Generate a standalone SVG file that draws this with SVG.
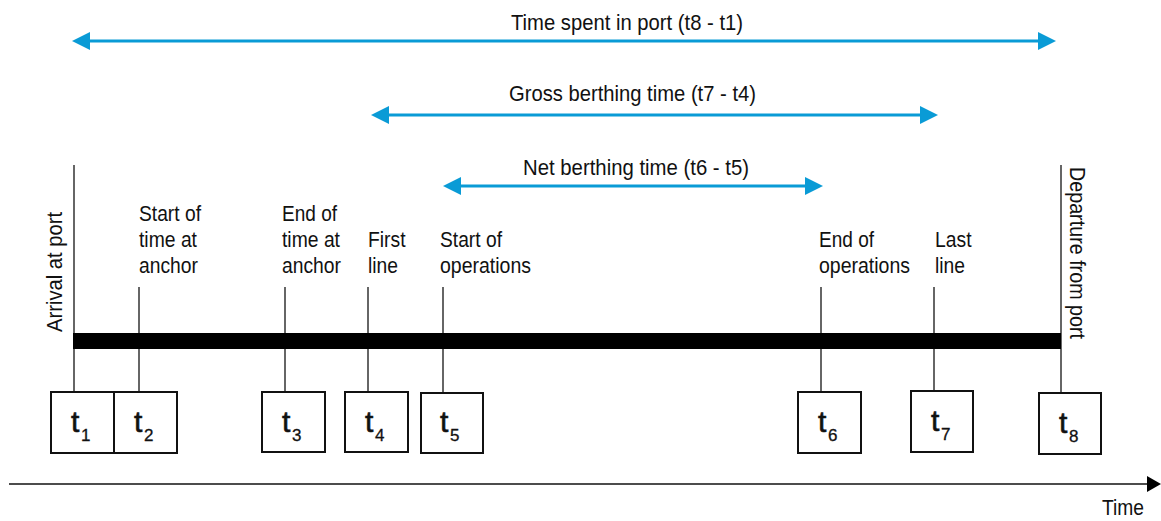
<svg xmlns="http://www.w3.org/2000/svg" width="1161" height="521" viewBox="0 0 1161 521">
<style>
text{font-family:"Liberation Sans",Arial,sans-serif;fill:#111}
.lbl{font-size:22.5px}
.tt{font-size:30px;stroke:#111;stroke-width:0.6}
.sub{font-size:17px;stroke:#111;stroke-width:0.3}
.box{fill:#fff;stroke:#111;stroke-width:2}
.span{stroke:#0a9bd6;stroke-width:3;fill:none;marker-start:url(#ah);marker-end:url(#ah)}
.tick{stroke:#333;stroke-width:1.5}
</style>
<defs>
<marker id="ah" viewBox="0 0 18 18" refX="3" refY="9" markerWidth="18" markerHeight="18" markerUnits="userSpaceOnUse" orient="auto-start-reverse">
<path d="M0,0 L18,9 L0,18 z" fill="#0a9bd6"/>
</marker>
<marker id="ak" viewBox="0 0 14 16" refX="2" refY="8" markerWidth="14" markerHeight="16" markerUnits="userSpaceOnUse" orient="auto">
<path d="M0,0 L14,8 L0,16 z" fill="#000"/>
</marker>
</defs>
<rect width="1161" height="521" fill="#fff"/>

<g id="connectors">
<line class="span" x1="87" y1="41" x2="1041" y2="41"/>
<line class="span" x1="386" y1="115" x2="923" y2="115"/>
<line class="span" x1="458" y1="186" x2="808" y2="186"/>
<line class="tick" x1="74" y1="165" x2="74" y2="392"/>
<line class="tick" x1="139" y1="287" x2="139" y2="392"/>
<line class="tick" x1="285" y1="287" x2="285" y2="392"/>
<line class="tick" x1="368" y1="287" x2="368" y2="392"/>
<line class="tick" x1="443" y1="287" x2="443" y2="392"/>
<line class="tick" x1="821" y1="287" x2="821" y2="392"/>
<line class="tick" x1="934" y1="287" x2="934" y2="392"/>
<line class="tick" x1="1061" y1="165" x2="1061" y2="393"/>
<line x1="9" y1="484" x2="1149" y2="484" stroke="#111" stroke-width="1.5" marker-end="url(#ak)"/>
</g>

<g id="timeline"><rect x="73" y="333" width="988" height="16" fill="#000"/></g>

<g id="span-port"><text class="lbl" x="511" y="30" textLength="232" lengthAdjust="spacingAndGlyphs">Time spent in port (t8 - t1)</text></g>
<g id="span-gross"><text class="lbl" x="509" y="101" textLength="247" lengthAdjust="spacingAndGlyphs">Gross berthing time (t7 - t4)</text></g>
<g id="span-net"><text class="lbl" x="523" y="175" textLength="226" lengthAdjust="spacingAndGlyphs">Net berthing time (t6 - t5)</text></g>

<g id="arrival"><text class="lbl" transform="translate(62,332) rotate(-90)" textLength="120" lengthAdjust="spacingAndGlyphs">Arrival at port</text></g>
<g id="departure"><text class="lbl" transform="translate(1070,167) rotate(90)" textLength="172" lengthAdjust="spacingAndGlyphs">Departure from port</text></g>

<g id="start-anchor">
<text class="lbl" x="139" y="220.5" textLength="62" lengthAdjust="spacingAndGlyphs">Start of</text>
<text class="lbl" x="139" y="246.5" textLength="58" lengthAdjust="spacingAndGlyphs">time at</text>
<text class="lbl" x="139" y="273" textLength="59" lengthAdjust="spacingAndGlyphs">anchor</text>
</g>
<g id="end-anchor">
<text class="lbl" x="282" y="220.5" textLength="55" lengthAdjust="spacingAndGlyphs">End of</text>
<text class="lbl" x="282" y="246.5" textLength="58" lengthAdjust="spacingAndGlyphs">time at</text>
<text class="lbl" x="282" y="273" textLength="59" lengthAdjust="spacingAndGlyphs">anchor</text>
</g>
<g id="first-line">
<text class="lbl" x="368" y="246.5" textLength="37.5" lengthAdjust="spacingAndGlyphs">First</text>
<text class="lbl" x="368" y="273" textLength="30" lengthAdjust="spacingAndGlyphs">line</text>
</g>
<g id="start-ops">
<text class="lbl" x="440" y="246.5" textLength="62" lengthAdjust="spacingAndGlyphs">Start of</text>
<text class="lbl" x="440" y="273" textLength="91" lengthAdjust="spacingAndGlyphs">operations</text>
</g>
<g id="end-ops">
<text class="lbl" x="819" y="246.5" textLength="55" lengthAdjust="spacingAndGlyphs">End of</text>
<text class="lbl" x="819" y="273" textLength="91" lengthAdjust="spacingAndGlyphs">operations</text>
</g>
<g id="last-line">
<text class="lbl" x="935" y="246.5" textLength="36.5" lengthAdjust="spacingAndGlyphs">Last</text>
<text class="lbl" x="935" y="273" textLength="30" lengthAdjust="spacingAndGlyphs">line</text>
</g>

<g id="t1"><rect class="box" x="51" y="392" width="63" height="61"/><text x="71" y="432" class="tt">t</text><text x="81" y="441" class="sub">1</text></g>
<g id="t2"><rect class="box" x="114" y="392" width="63" height="61"/><text x="134" y="432" class="tt">t</text><text x="144" y="441" class="sub">2</text></g>
<g id="t3"><rect class="box" x="262" y="392" width="63" height="60"/><text x="282" y="432" class="tt">t</text><text x="292" y="441" class="sub">3</text></g>
<g id="t4"><rect class="box" x="345" y="392" width="63" height="60"/><text x="365" y="432" class="tt">t</text><text x="375" y="441" class="sub">4</text></g>
<g id="t5"><rect class="box" x="421" y="393" width="62" height="60"/><text x="440" y="432" class="tt">t</text><text x="450" y="441" class="sub">5</text></g>
<g id="t6"><rect class="box" x="798" y="392" width="63" height="61"/><text x="818" y="432" class="tt">t</text><text x="828" y="441" class="sub">6</text></g>
<g id="t7"><rect class="box" x="911" y="391" width="62" height="61"/><text x="931" y="431" class="tt">t</text><text x="941" y="440" class="sub">7</text></g>
<g id="t8"><rect class="box" x="1039" y="393" width="62" height="61"/><text x="1059" y="433" class="tt">t</text><text x="1069" y="442" class="sub">8</text></g>

<g id="time-label"><text class="lbl" x="1102" y="515" textLength="42" lengthAdjust="spacingAndGlyphs">Time</text></g>
</svg>
